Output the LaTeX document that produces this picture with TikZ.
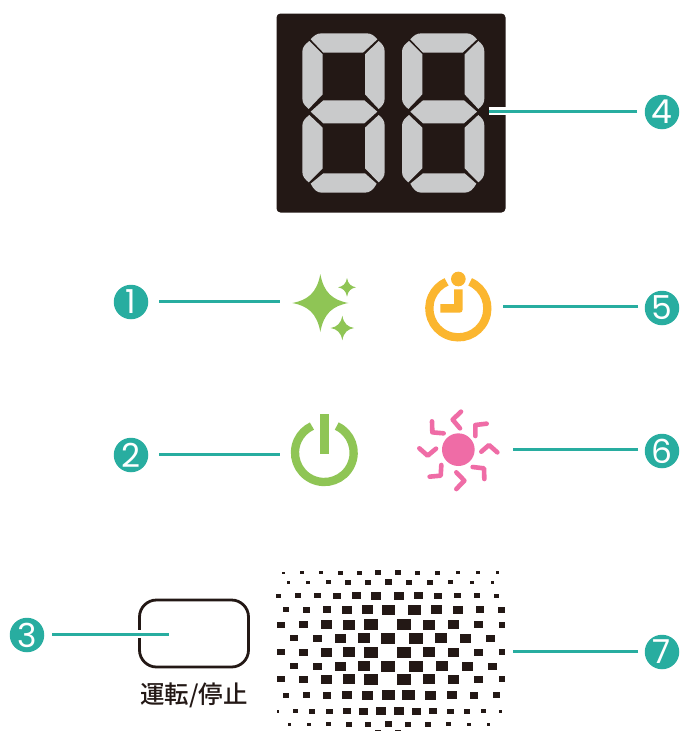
\documentclass[tikz,border=0pt]{standalone}
\usepackage{fontspec}
\setmainfont{Poppins}
\newfontfamily\cjkf{Noto Sans CJK JP Medium}
\definecolor{teal1}{HTML}{28ADA0}
\definecolor{dark1}{HTML}{231815}
\definecolor{seg1}{HTML}{C9CACB}
\definecolor{green1}{HTML}{8FC555}
\definecolor{orange1}{HTML}{FBB62F}
\definecolor{pink1}{HTML}{EF6CA6}
\tikzset{
  badge/.style={circle,fill=teal1,text=white,inner sep=0pt,minimum size=34.5pt,font=\fontsize{33}{33}\selectfont},
  conn/.style={draw=teal1,line width=3pt},
  halo/.style={draw=white,line width=8.5pt},
  segm/.style={fill=seg1,rounded corners=0pt},
  dot/.style={fill=dark1},
  chev/.style={draw=pink1,line width=4.6pt,line cap=round,line join=round},
  zoomcoords/.style={x=0.33333pt,y=-0.33333pt},
  pics/digit/.style={code={
    \fill[segm] (122,103) .. controls (132,92) and (140,85) .. (155,85) -- (290,85) .. controls (305,85) and (313,93) .. (322,103) -- (279,143) -- (160,143) -- cycle;
    \fill[segm] (118,108) -- (158,148) -- (158,268) -- (116,312) .. controls (105,302) and (97,295) .. (97,280) -- (97,140) .. controls (97,125) and (107,117) .. (118,108) -- cycle;
    \fill[segm] (326,108) .. controls (337,117) and (344,125) .. (344,140) -- (344,280) .. controls (344,295) and (337,303) .. (326,312) -- (285,268) -- (285,148) -- cycle;
    \fill[segm] (122,320) -- (160,286) -- (283,286) -- (322,320) -- (283,355) -- (160,355) -- cycle;
    \fill[segm] (118,330) -- (158,368) -- (158,490) -- (116,532) .. controls (105,522) and (97,515) .. (97,500) -- (97,362) .. controls (97,347) and (107,339) .. (118,330) -- cycle;
    \fill[segm] (326,330) .. controls (337,339) and (344,347) .. (344,362) -- (344,500) .. controls (344,515) and (337,523) .. (326,532) -- (285,490) -- (285,368) -- cycle;
    \fill[segm] (122,536) -- (160,505) -- (285,505) -- (320,536) .. controls (311,553) and (300,563) .. (285,563) -- (155,563) .. controls (140,563) and (131,553) .. (122,536) -- cycle;
  }}
}
\newcommand{\sparkle}[5]{% cx cy rx ry color (zoom coords)
  \fill[#5] (#1,#2-#4) .. controls (#1+0.12*#3,#2-0.35*#4) and (#1+0.45*#3,#2-0.1*#4) .. (#1+#3,#2)
   .. controls (#1+0.45*#3,#2+0.1*#4) and (#1+0.12*#3,#2+0.35*#4) .. (#1,#2+#4)
   .. controls (#1-0.12*#3,#2+0.35*#4) and (#1-0.45*#3,#2+0.1*#4) .. (#1-#3,#2)
   .. controls (#1-0.45*#3,#2-0.1*#4) and (#1-0.12*#3,#2-0.35*#4) .. (#1,#2-#4) -- cycle;}
\newcommand{\dotrow}[2]{%
  \foreach \x/\w/\h in #2 {\fill[dot] (\x-\w/2,#1-\h/2) rectangle (\x+\w/2,#1+\h/2);}}
\begin{document}
\begin{tikzpicture}[x=1pt,y=-1pt]
\useasboundingbox (0,0) rectangle (681,731);
\fill[white] (0,0) rectangle (681,731);

% display
\node[fill=dark1,rounded corners=4pt,minimum width=229pt,minimum height=199pt,inner sep=0pt] (display) at (391,113) {};
\begin{scope}[shift={(270,5)},zoomcoords]
  \pic at (0,0) {digit};
  \pic at (299,0) {digit};
\end{scope}

% icons
\begin{scope}[shift={(280,260)},zoomcoords]
  \sparkle{121}{129}{84}{87}{green1}
  \sparkle{201}{82}{27}{28}{green1}
  \sparkle{187}{204}{35}{37}{green1}
  % clock
  \draw[orange1,line width=8.3pt] (535+87*cos 66,145-87*sin 66) arc[start angle=-66,end angle=246,radius=87];
  \fill[orange1] (535,57) circle[radius=22];
  \fill[orange1] (522,88) -- (548,88) -- (548,148) .. controls (548,154) and (545,158) .. (539,158) -- (481,158) -- (481,132) -- (522,132) -- cycle;
  % power
  \draw[green1,line width=8.3pt] (133+88*cos 65,578-88*sin 65) arc[start angle=-65,end angle=245,radius=88];
  \fill[green1] (120,462) rectangle (148,582);
  % sun
  \fill[pink1] (535,569) circle[radius=49];
  \draw[chev] (543,455) -- (518,479) -- (540,505);
  \draw[chev] (620,491) -- (586,495) -- (586,528);
  \draw[chev] (604,575) -- (627,555) -- (652,577);
  \draw[chev] (578,621) -- (612,625) -- (613,657);
  \draw[chev] (529,637) -- (553,662) -- (529,687);
  \draw[chev] (484,615) -- (482,647) -- (449,650);
  \draw[chev] (418,565) -- (443,587) -- (468,566);
  \draw[chev] (491,520) -- (457,517) -- (456,484);
\end{scope}

% button
\node[draw=dark1,line width=2.8pt,rounded corners=17pt,minimum width=109pt,minimum height=67pt,inner sep=0pt] (button) at (194,633.5) {};
\node[text=dark1,inner sep=0pt,font=\cjkf\fontsize{24.5}{25}\selectfont] (label) at (194,695) {運転/停止};

% speaker grille
\begin{scope}[shift={(270,560)},zoomcoords]
  \dotrow{38}{{40/8/5,96/12/9,153/12/9,211/15/12,268/15/12,324/18/15,384/18/15,442/15/12,502/15/12,564/12/9,624/12/9,682/8/8}}
  \dotrow{67}{{55/9/9,114/12/9,175/15/12,234/18/15,294/18/15,355/21/18,417/18/15,480/18/15,541/15/12,606/12/9,667/9/9}}
  \dotrow{107}{{25/14/12,84/18/14,142/21/15,201/24/18,259/27/21,318/30/24,387/30/24,445/27/21,504/24/18,562/21/15,621/18/15,679/15/12}}
  \dotrow{149}{{48/18/15,110/21/18,171/24/21,231/30/24,292/33/27,355/39/30,433/39/30,499/33/27,564/30/24,630/24/21,694/21/18}}
  \dotrow{194}{{33/24/18,100/27/21,169/33/27,237/36/30,303/42/33,402/42/33,477/36/30,550/33/27,625/27/21,696/18/18}}
  \dotrow{234}{{72/24/18,142/27/21,211/33/27,282/36/30,354/42/33,438/42/33,513/36/30,586/33/27,661/27/21}}
  \dotrow{277}{{33/24/18,100/27/21,169/33/27,237/36/30,303/42/33,402/42/33,477/36/30,550/33/27,625/27/21,696/18/18}}
  \dotrow{319}{{72/24/18,142/27/21,211/33/27,282/36/30,354/42/33,438/42/33,516/36/30,592/33/27,667/27/21}}
  \dotrow{358}{{33/24/18,100/27/21,169/33/27,237/36/30,303/42/33,402/42/33,477/36/30,550/33/27,625/27/21,696/18/18}}
  \dotrow{406}{{48/18/15,109/21/18,171/24/21,231/30/24,292/33/27,355/39/30,415/39/30,481/33/27,546/30/24,612/24/21,679/21/18}}
  \dotrow{453}{{23/6/9,76/15/12,126/18/15,178/21/15,231/24/18,280/27/21,333/30/24,387/30/24,439/27/21,489/24/18,541/21/15,591/18/15,640/15/12,691/9/9}}
  \dotrow{492}{{58/9/9,117/12/9,175/15/12,237/18/15,294/18/15,355/21/18,414/18/15,474/18/15,536/15/12,597/12/9,655/9/9}}
  \dotrow{512}{{324/18/3,384/18/3}}
\end{scope}

% connector ends
\coordinate (e1) at (280,301);
\coordinate (e2) at (280,454);
\coordinate (e3) at (169,634);
\coordinate (e4) at (489,111);
\coordinate (e5) at (503,306);
\coordinate (e6) at (513,449);
\coordinate (e7) at (513,651);
\coordinate (s1) at (159,301);
\coordinate (s2) at (159,454);
\coordinate (s3) at (52,634);
\coordinate (s4) at (637,111);
\coordinate (s5) at (638,306);
\coordinate (s6) at (638,449);
\coordinate (s7) at (638,651);

\draw[halo] (e3) -- (s3);
\draw[halo] (e4) -- (s4);
\draw[conn] (s1) -- (e1);
\draw[conn] (s2) -- (e2);
\draw[conn] (s3) -- (e3);
\draw[conn] (s4) -- (e4);
\draw[conn] (s5) -- (e5);
\draw[conn] (s6) -- (e6);
\draw[conn] (s7) -- (e7);

% badges
\node[badge] (b1) at (131,302) {1};
\node[badge] (b2) at (131,455) {2};
\node[badge] (b3) at (27,635) {3};
\node[badge] (b4) at (662,112) {4};
\node[badge] (b5) at (662,308) {5};
\node[badge] (b6) at (662,451) {6};
\node[badge] (b7) at (662,652) {7};
\end{tikzpicture}
\end{document}
